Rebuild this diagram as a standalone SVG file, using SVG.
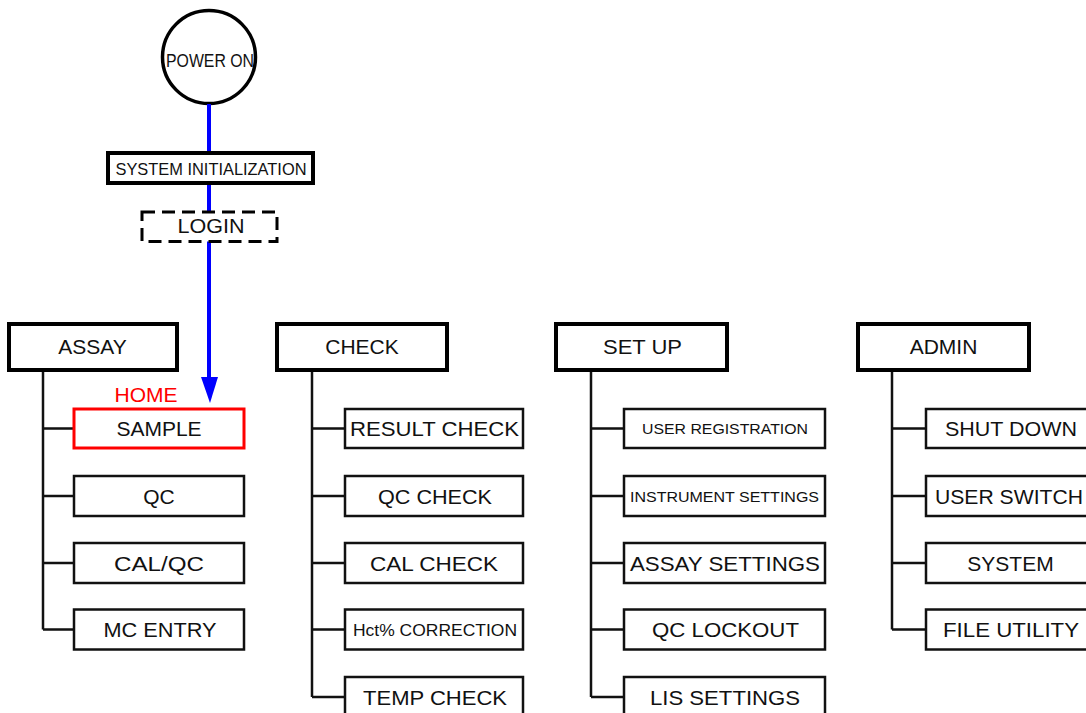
<svg xmlns="http://www.w3.org/2000/svg" width="1086" height="713" viewBox="0 0 1086 713">
<style>
text{font-family:"Liberation Sans",Arial,sans-serif;fill:#111;text-anchor:middle;}
.t21{font-size:21px;}
.t15{font-size:15.5px;}
.hdr{fill:#fff;stroke:#000;stroke-width:4;}
.box{fill:#fff;stroke:#111;stroke-width:2.5;}
.home{fill:#fff;stroke:#f00;stroke-width:3;}
.tree{fill:none;stroke:#111;stroke-width:2.5;}
.flow{fill:none;stroke:#0000ff;stroke-width:4;}
</style>
<defs>
<marker id="arr" markerWidth="16" markerHeight="26" refX="8" refY="26" orient="auto" markerUnits="userSpaceOnUse" viewBox="0 0 16 26">
<polygon points="0,0 16,0 8,26" fill="#0000ff"/>
</marker>
</defs>
<rect width="1086" height="713" fill="#fff"/>
<g id="connectors">
<line class="flow" x1="209" y1="104" x2="209" y2="377"/>
<polygon points="201,377 218,377 210,403" fill="#0000ff"/>
<path class="tree" d="M43,370 V629.5 M43,428.5 H74 M43,496 H74 M43,563 H74 M43,629.5 H74"/>
<path class="tree" d="M312,370 V697 M312,428.5 H345 M312,496 H345 M312,563 H345 M312,629.5 H345 M312,697 H345"/>
<path class="tree" d="M591,370 V697 M591,428.5 H624 M591,496 H624 M591,563 H624 M591,629.5 H624 M591,697 H624"/>
<path class="tree" d="M892,370 V629.5 M892,428.5 H926 M892,496 H926 M892,563 H926 M892,629.5 H926"/>
</g>
<g id="power-on"><circle cx="209" cy="57" r="46.5" fill="#fff" stroke="#000" stroke-width="3.5"/><text x="210" y="67" font-size="18.5" textLength="88" lengthAdjust="spacingAndGlyphs">POWER ON</text></g>
<line class="flow" x1="209" y1="104" x2="209" y2="153"/>
<g id="system-init"><rect x="108" y="153" width="205" height="30" fill="#fff" stroke="#000" stroke-width="4"/><text x="211" y="175" font-size="16.5" textLength="191" lengthAdjust="spacingAndGlyphs">SYSTEM INITIALIZATION</text></g>
<g id="login"><rect x="142" y="212" width="135" height="29.5" fill="#fff" stroke="#000" stroke-width="3" stroke-dasharray="13 7"/><text class="t21" x="211" y="233" textLength="67" lengthAdjust="spacingAndGlyphs">LOGIN</text></g>
<line class="flow" x1="209" y1="244" x2="209" y2="378"/>

<g id="assay"><rect class="hdr" x="9" y="324" width="168" height="46"/><text class="t21" x="92.5" y="354">ASSAY</text></g>
<text id="home-label" class="t21" x="146" y="402" style="fill:#f00">HOME</text>
<g id="sample"><rect class="home" x="74" y="409" width="170" height="39"/><text class="t21" x="159" y="436">SAMPLE</text></g>
<g id="qc"><rect class="box" x="74" y="476" width="170" height="40"/><text class="t21" x="159" y="503.5">QC</text></g>
<g id="calqc"><rect class="box" x="74" y="543" width="170" height="40"/><text class="t21" x="159" y="571" textLength="90" lengthAdjust="spacingAndGlyphs">CAL/QC</text></g>
<g id="mc-entry"><rect class="box" x="74" y="609.5" width="170" height="40"/><text class="t21" x="160" y="637" textLength="113" lengthAdjust="spacingAndGlyphs">MC ENTRY</text></g>

<g id="check"><rect class="hdr" x="277" y="324" width="170" height="46"/><text class="t21" x="362" y="354">CHECK</text></g>
<g id="result-check"><rect class="box" x="345" y="409" width="178" height="39"/><text class="t21" x="434.5" y="436" textLength="169" lengthAdjust="spacingAndGlyphs">RESULT CHECK</text></g>
<g id="qc-check"><rect class="box" x="345" y="476" width="178" height="40"/><text class="t21" x="435" y="503.5" textLength="114" lengthAdjust="spacingAndGlyphs">QC CHECK</text></g>
<g id="cal-check"><rect class="box" x="345" y="543" width="178" height="40"/><text class="t21" x="434" y="571" textLength="128" lengthAdjust="spacingAndGlyphs">CAL CHECK</text></g>
<g id="hct-correction"><rect class="box" x="345" y="609.5" width="178" height="40"/><text x="435" y="635.5" font-size="17" textLength="164" lengthAdjust="spacingAndGlyphs">Hct% CORRECTION</text></g>
<g id="temp-check"><rect class="box" x="345" y="677" width="178" height="42"/><text class="t21" x="435" y="705" textLength="144" lengthAdjust="spacingAndGlyphs">TEMP CHECK</text></g>

<g id="set-up"><rect class="hdr" x="556" y="324" width="171" height="46"/><text class="t21" x="642.5" y="354" textLength="79" lengthAdjust="spacingAndGlyphs">SET UP</text></g>
<g id="user-registration"><rect class="box" x="624" y="409" width="201" height="39"/><text class="t15" x="725" y="434" textLength="166" lengthAdjust="spacingAndGlyphs">USER REGISTRATION</text></g>
<g id="instrument-settings"><rect class="box" x="624" y="476" width="201" height="40"/><text class="t15" x="724.5" y="501.5" textLength="189" lengthAdjust="spacingAndGlyphs">INSTRUMENT SETTINGS</text></g>
<g id="assay-settings"><rect class="box" x="624" y="543" width="201" height="40"/><text class="t21" x="725" y="571" textLength="190" lengthAdjust="spacingAndGlyphs">ASSAY SETTINGS</text></g>
<g id="qc-lockout"><rect class="box" x="624" y="609.5" width="201" height="40"/><text class="t21" x="725.5" y="637" textLength="147" lengthAdjust="spacingAndGlyphs">QC LOCKOUT</text></g>
<g id="lis-settings"><rect class="box" x="624" y="677" width="201" height="42"/><text class="t21" x="725" y="705" textLength="150" lengthAdjust="spacingAndGlyphs">LIS SETTINGS</text></g>

<g id="admin"><rect class="hdr" x="858" y="324" width="171" height="46"/><text class="t21" x="943.5" y="354">ADMIN</text></g>
<g id="shut-down"><rect class="box" x="926" y="409" width="170" height="39"/><text class="t21" x="1011" y="436" textLength="132" lengthAdjust="spacingAndGlyphs">SHUT DOWN</text></g>
<g id="user-switch"><rect class="box" x="926" y="476" width="170" height="40"/><text class="t21" x="1009" y="503.5" textLength="148" lengthAdjust="spacingAndGlyphs">USER SWITCH</text></g>
<g id="system"><rect class="box" x="926" y="543" width="170" height="40"/><text class="t21" x="1010.5" y="571">SYSTEM</text></g>
<g id="file-utility"><rect class="box" x="926" y="609.5" width="170" height="40"/><text class="t21" x="1011" y="637" textLength="136" lengthAdjust="spacingAndGlyphs">FILE UTILITY</text></g>
</svg>
